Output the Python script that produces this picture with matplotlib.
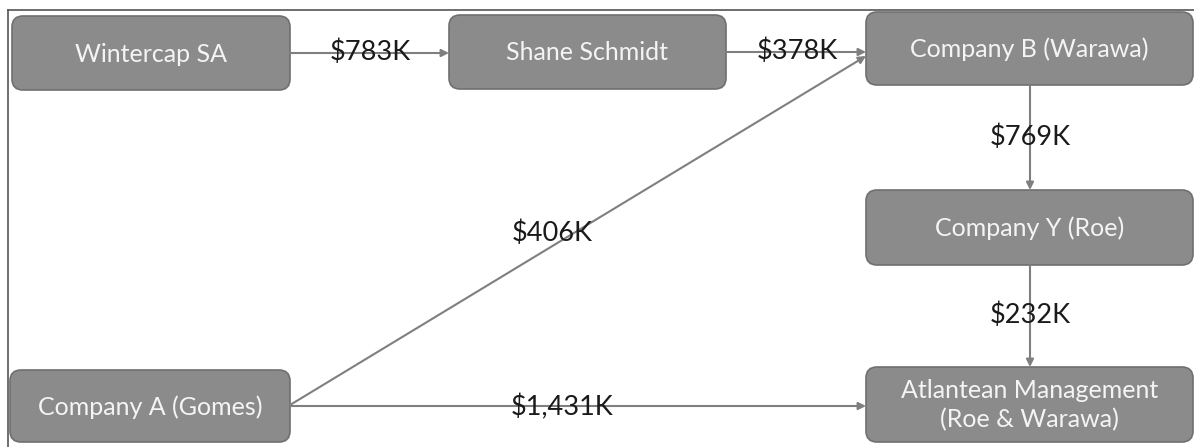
import matplotlib.pyplot as plt
from matplotlib.patches import FancyBboxPatch

# nodes of the flow diagram
node_names = ["Wintercap SA", "Shane Schmidt", "Company B (Warawa)",
              "Company Y (Roe)", "Company A (Gomes)",
              "Atlantean Management\n(Roe & Warawa)"]

# transfers between nodes
sources = ["Wintercap SA", "Shane Schmidt", "Company A (Gomes)",
           "Company B (Warawa)", "Company Y (Roe)", "Company A (Gomes)"]
targets = ["Shane Schmidt", "Company B (Warawa)", "Company B (Warawa)",
           "Company Y (Roe)", "Atlantean Management\n(Roe & Warawa)",
           "Atlantean Management\n(Roe & Warawa)"]
amounts = ["$783K", "$378K", "$406K", "$769K", "$232K", "$1,431K"]

# layout in pixel coords: (left, top, right, bottom)
boxes = {
    "Wintercap SA": (12, 16, 290, 90),
    "Shane Schmidt": (449, 15, 726, 89),
    "Company B (Warawa)": (866, 12, 1193, 85),
    "Company Y (Roe)": (866, 190, 1193, 265),
    "Company A (Gomes)": (10, 370, 290, 442),
    "Atlantean Management\n(Roe & Warawa)": (866, 367, 1193, 442),
}
# arrow start, end and label position for each edge
arrow_pts = [((290, 53), (449, 53), (370, 52)),
             ((726, 52), (866, 52), (797, 51)),
             ((290, 405), (866, 56), (552, 233)),
             ((1030, 85), (1030, 190), (1030, 137)),
             ((1030, 265), (1030, 367), (1030, 315)),
             ((290, 406), (866, 406), (562, 407))]

box_fill = "#8b8b8b"
box_edge = "#6f6f6f"
line_col = "#7f7f7f"

fig = plt.figure(figsize=(11.94, 4.47), dpi=100)
ax = fig.add_axes([0, 0, 1, 1])
ax.set_xlim(0, 1194)
ax.set_ylim(447, 0)
ax.axis("off")

# outer frame (top and left visible)
ax.plot([8, 1194], [10, 10], color="#555555", lw=1.2)
ax.plot([8, 8], [10, 447], color="#555555", lw=1.2)

for name in node_names:
    x0, y0, x1, y1 = boxes[name]
    patch = FancyBboxPatch((x0, y0), x1 - x0, y1 - y0,
                           boxstyle="round,pad=0,rounding_size=11",
                           facecolor=box_fill, edgecolor=box_edge, lw=1.2, zorder=2)
    ax.add_patch(patch)
    ax.text((x0 + x1) / 2, (y0 + y1) / 2 + 1, name, color="#f4f4f4",
            fontsize=18, family="Lato", ha="center", va="center",
            linespacing=1.3, zorder=3)

for (start, end, lab), amt in zip(arrow_pts, amounts):
    ax.annotate("", xy=end, xytext=start,
                arrowprops=dict(arrowstyle="-|>", color=line_col, lw=1.5,
                                shrinkA=0, shrinkB=0, mutation_scale=11),
                zorder=4)
    ax.text(lab[0], lab[1], amt, color="#1a1a1a", fontsize=19.5, family="Lato",
            ha="center", va="center", zorder=5)

fig.savefig("out.png", dpi=100)
